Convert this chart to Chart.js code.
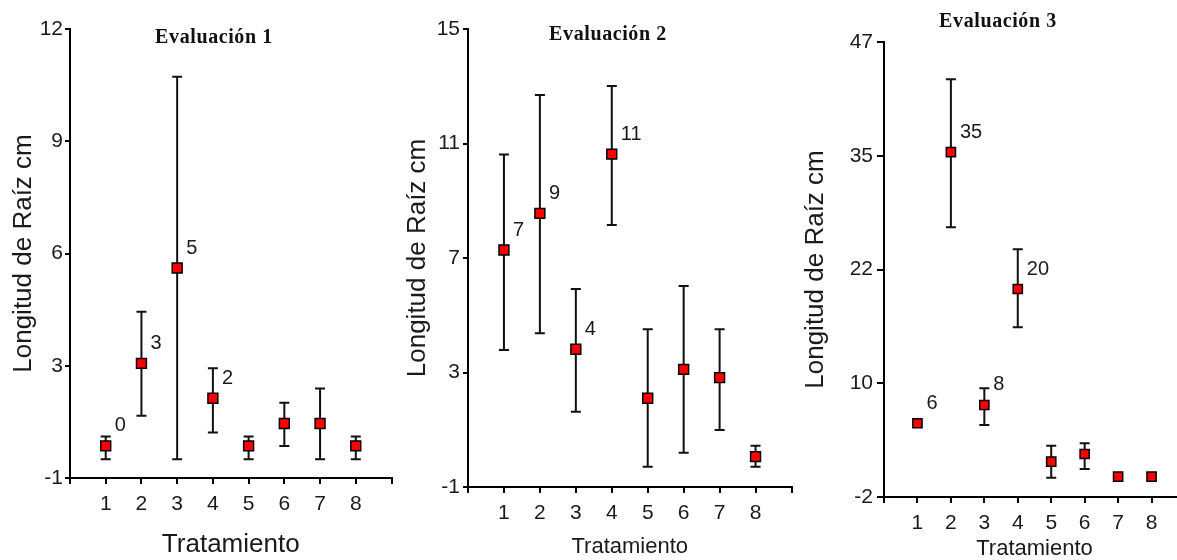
<!DOCTYPE html>
<html>
<head>
<meta charset="utf-8">
<script src="https://cdn.jsdelivr.net/npm/chart.js@4.4.1/dist/chart.umd.min.js"></script>
<style>
html,body{margin:0;padding:0;background:#fff;overflow:hidden;width:1177px;height:560px;position:relative;}
.p{position:absolute;top:0;width:400px;height:560px;}
canvas{display:block;}
</style>
</head>
<body>
<div class="p" style="left:0px"><canvas id="c1" width="400" height="560" style="width:400px;height:560px"></canvas></div>
<div class="p" style="left:400px"><canvas id="c2" width="400" height="560" style="width:400px;height:560px"></canvas></div>
<div class="p" style="left:800px"><canvas id="c3" width="400" height="560" style="width:400px;height:560px"></canvas></div>
<script>
// ---------- DATA ----------
const tratamientos = [1, 2, 3, 4, 5, 6, 7, 8];
const xTickValues = [0, 1, 2, 3, 4, 5, 6, 7, 8, 9];
const xTickLabels = ['', '1', '2', '3', '4', '5', '6', '7', '8', ''];

// Evaluación 1
const eval1Mean  = [-0.07, 2.32, 5.08, 1.31, -0.07, 0.58, 0.58, -0.07];
const eval1Low   = [-0.46, 0.80, -0.46, 0.32, -0.46, -0.07, -0.46, -0.46];
const eval1High  = [0.20, 3.81, 10.62, 2.18, 0.20, 1.18, 1.59, 0.20];
const eval1Labels = ['0', '3', '5', '2', '', '', '', ''];
const eval1TickValues = [-1, 2.25, 5.5, 8.75, 12];
const eval1TickLabels = ['-1', '3', '6', '9', '12'];

// Evaluación 2
const eval2Mean  = [7.28, 8.56, 3.81, 10.63, 2.10, 3.11, 2.82, 0.06];
const eval2Low   = [3.79, 4.37, 1.63, 8.15, -0.29, 0.20, 0.99, -0.29];
const eval2High  = [10.62, 12.69, 5.92, 13.01, 4.51, 6.02, 4.51, 0.44];
const eval2Labels = ['7', '9', '4', '11', '', '', '', ''];
const eval2TickValues = [-1, 3, 7, 11, 15];
const eval2TickLabels = ['-1', '3', '7', '11', '15'];

// Evaluación 3
const eval3Mean  = [5.94, 35.15, 7.91, 20.40, 1.80, 2.63, 0.19, 0.19];
const eval3Low   = [5.94, 27.04, 5.75, 16.27, 0.08, 1.02, 0.19, 0.19];
const eval3High  = [5.94, 42.98, 9.70, 24.67, 3.53, 3.78, 0.19, 0.19];
const eval3Labels = ['6', '35', '8', '20', '', '', '', ''];
const eval3TickValues = [-2, 10.25, 22.5, 34.75, 47];
const eval3TickLabels = ['-2', '10', '22', '35', '47'];

const titles = ['Evaluación 1', 'Evaluación 2', 'Evaluación 3'];
const yTitle = 'Longitud de Raíz cm';
const xTitle = 'Tratamiento';

// ---------- DRAWING ----------
const SANS = "'Liberation Sans', Arial, sans-serif";
const SERIF = "'Liberation Serif', 'Times New Roman', serif";
const TXT = '#1a1a1a';

function makePlugin(cfg) {
  return {
    id: 'errbars_' + cfg.id,
    beforeDatasetsDraw(chart) {
      const {ctx, scales: {x, y}} = chart;
      ctx.save();
      ctx.strokeStyle = '#111';
      ctx.lineWidth = 2;
      tratamientos.forEach((t, i) => {
        const lo = cfg.low[i], hi = cfg.high[i];
        if (lo === hi) return;
        const px = x.getPixelForValue(t);
        const p1 = y.getPixelForValue(lo), p2 = y.getPixelForValue(hi);
        ctx.beginPath();
        ctx.moveTo(px, p1); ctx.lineTo(px, p2);
        ctx.moveTo(px - cfg.cap, p1); ctx.lineTo(px + cfg.cap, p1);
        ctx.moveTo(px - cfg.cap, p2); ctx.lineTo(px + cfg.cap, p2);
        ctx.stroke();
      });
      ctx.restore();
    },
    afterDatasetsDraw(chart) {
      const {ctx, scales: {x, y}} = chart;
      ctx.save();
      ctx.fillStyle = TXT;
      ctx.font = '20px ' + SANS;
      ctx.textAlign = 'left';
      ctx.textBaseline = 'middle';
      tratamientos.forEach((t, i) => {
        const lab = cfg.labels[i];
        if (!lab) return;
        ctx.fillText(lab, x.getPixelForValue(t) + 9, y.getPixelForValue(cfg.mean[i]) - 20);
      });
      ctx.font = 'bold 20px ' + SERIF;
      try { ctx.letterSpacing = '0.6px'; } catch (e) {}
      ctx.textAlign = 'center';
      ctx.fillStyle = '#111';
      ctx.fillText(cfg.title, cfg.titleX, cfg.titleY);
      ctx.restore();
    }
  };
}

function makeChart(cfg) {
  return new Chart(document.getElementById(cfg.id), {
    type: 'scatter',
    data: {
      datasets: [{
        data: tratamientos.map((t, i) => ({x: t, y: cfg.mean[i]})),
        pointStyle: 'rect',
        pointRadius: cfg.r,
        pointHoverRadius: cfg.r,
        backgroundColor: '#ff0000',
        borderColor: '#000',
        borderWidth: 1.5,
        showLine: false
      }]
    },
    options: {
      responsive: false,
      animation: false,
      events: [],
      layout: {padding: {top: cfg.top, right: cfg.right, left: 0, bottom: 0}},
      plugins: {legend: {display: false}, tooltip: {enabled: false}, title: {display: false}},
      scales: {
        x: {
          type: 'linear', min: 0, max: 9,
          afterBuildTicks: s => { s.ticks = xTickValues.map(v => ({value: v})); },
          afterFit: s => { s.height = cfg.xh; },
          ticks: {
            autoSkip: false, maxRotation: 0, minRotation: 0,
            callback: (v, i) => xTickLabels[i],
            font: {family: SANS, size: 21}, color: TXT, padding: 8
          },
          grid: {drawOnChartArea: false, color: '#000', lineWidth: 2, tickLength: 6},
          border: {color: '#000', width: 2},
          title: {display: true, text: xTitle, color: TXT,
                  font: {family: SANS, size: cfg.xtSize, lineHeight: cfg.xtLH},
                  padding: {top: 0, bottom: 0}}
        },
        y: {
          type: 'linear', min: cfg.tickValues[0], max: cfg.tickValues[cfg.tickValues.length - 1],
          afterBuildTicks: s => { s.ticks = cfg.tickValues.map(v => ({value: v})); },
          afterFit: s => { s.width = cfg.yw; },
          ticks: {
            autoSkip: false,
            callback: (v, i) => cfg.tickLabels[i],
            font: {family: SANS, size: 21}, color: TXT, padding: cfg.yPad
          },
          grid: {drawOnChartArea: false, color: '#000', lineWidth: 2, tickLength: cfg.yTick},
          border: {color: '#000', width: 2},
          title: {display: true, text: yTitle, color: TXT,
                  font: {family: SANS, size: 26, lineHeight: 1.2},
                  padding: {top: cfg.ytPad, bottom: 0}}
        }
      }
    },
    plugins: [makePlugin(cfg)]
  });
}

makeChart({id: 'c1', mean: eval1Mean, low: eval1Low, high: eval1High, labels: eval1Labels,
  tickValues: eval1TickValues, tickLabels: eval1TickLabels, title: titles[0],
  titleX: 214, titleY: 38, top: 29, right: 5, xh: 82, yw: 70, r: 7, cap: 5,
  yPad: 2, yTick: 5, ytPad: 8, xtSize: 26, xtLH: 1.2});

makeChart({id: 'c2', mean: eval2Mean, low: eval2Low, high: eval2High, labels: eval2Labels,
  tickValues: eval2TickValues, tickLabels: eval2TickLabels, title: titles[1],
  titleX: 208, titleY: 35, top: 29, right: 5, xh: 73, yw: 68, r: 7, cap: 5,
  yPad: 3, yTick: 5, ytPad: 2, xtSize: 22, xtLH: 1.2});

makeChart({id: 'c3', mean: eval3Mean, low: eval3Low, high: eval3High, labels: eval3Labels,
  tickValues: eval3TickValues, tickLabels: eval3TickLabels, title: titles[2],
  titleX: 198, titleY: 22, top: 42, right: 15, xh: 63, yw: 84, r: 6.5, cap: 5,
  yPad: 4, yTick: 7, ytPad: 0, xtSize: 22, xtLH: 1.0});
</script>
</body>
</html>
